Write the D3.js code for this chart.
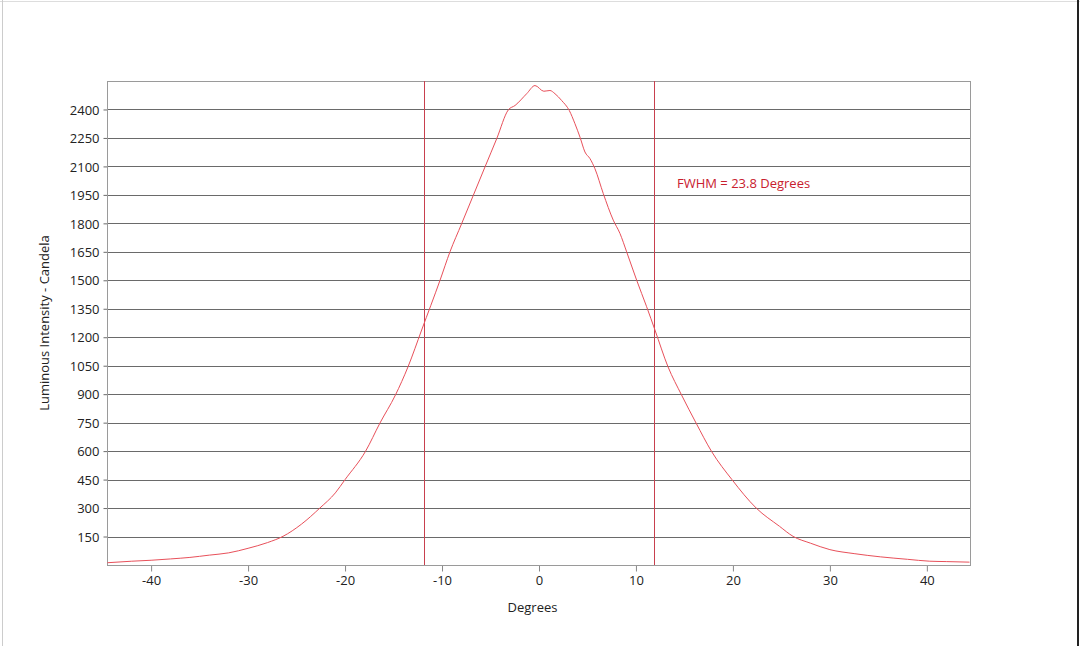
<!DOCTYPE html>
<html>
<head>
<meta charset="utf-8">
<script src="https://cdn.jsdelivr.net/npm/d3@7"></script>
<style>
  body { margin: 0; background: #fff; }
  svg text { font-family: "Open Sans", "DejaVu Sans", sans-serif; }
</style>
</head>
<body>
<svg id="chart" width="1080" height="646"></svg>
<script>
var degrees = [-44.5, -42, -40, -38, -36, -34, -32, -30, -28, -26.4, -24.5, -22.6, -21, -20, -17.9, -16.4,
    -14.8, -13.5, -12.1, -10.2, -9.18, -7.97, -6.77, -5.57, -4.36, -3.16, -2.47, -1.27, -0.41,
    0.5, 1.13, 1.65, 2.34, 3.12, 3.71, 4.23, 4.74, 5.26, 5.77, 6.63, 7.66, 8.35, 9.04, 10.07, 11.1,
    11.96, 13.3, 14.7, 16.2, 17.8, 19.9, 22.4, 24.8, 26.2, 28, 30, 32.5, 35.2, 38, 40.3, 42, 44.4]
var candela = [12, 20, 25, 32, 40, 52, 64, 88, 118, 151, 215, 300, 380, 450, 598, 748,
    896, 1045, 1238, 1501, 1650, 1799, 1948, 2097, 2246, 2398, 2421, 2483, 2526,
    2496, 2500, 2483, 2447, 2395, 2325, 2254, 2176, 2141, 2088, 1957, 1817, 1747, 1650, 1501, 1361,
    1238, 1045, 896, 748, 598, 450, 300, 204, 151, 115, 81, 60, 43, 30, 20, 18, 15]
var yTicks = [150, 300, 450, 600, 750, 900, 1050, 1200, 1350, 1500, 1650, 1800, 1950, 2100, 2250, 2400]
var xTicks = [-40, -30, -20, -10, 0, 10, 20, 30, 40]
var fwhmEdges = [-11.9, 11.9]
var fwhmLabel = 'FWHM = 23.8 Degrees'

var svg = d3.select('#chart')
var conf = { left: 107, right: 970, top: 81, bottom: 565 }

// page frame
svg.append('line').attr('x1', 0).attr('x2', 1080).attr('y1', 1.5).attr('y2', 1.5).attr('stroke', '#ddd')
svg.append('line').attr('x1', 2.5).attr('x2', 2.5).attr('y1', 0).attr('y2', 646).attr('stroke', '#ccc')
svg.append('line').attr('x1', 1078).attr('x2', 1078).attr('y1', 0).attr('y2', 646).attr('stroke', '#222').attr('stroke-width', 2)

var x = d3.scaleLinear().domain([-44.55, 44.45]).range([conf.left, conf.right])
var y = d3.scaleLinear().domain([0, 2550]).range([conf.bottom, conf.top])
var plain = d => String(d)

// grid lines
svg.append('g')
    .selectAll('line').data(yTicks).enter().append('line')
    .attr('x1', conf.left).attr('x2', conf.right)
    .attr('y1', d => Math.round(y(d)) + 0.5).attr('y2', d => Math.round(y(d)) + 0.5)
    .attr('stroke', '#6a6a6a')

// y axis
var yAxis = svg.append('g')
    .attr('transform', 'translate(' + (conf.left + 0.5) + ',0.5)')
    .call(d3.axisLeft(y).tickValues(yTicks).tickFormat(plain).tickSize(4).tickPadding(4))
yAxis.select('.domain').remove()
yAxis.selectAll('line').attr('stroke', '#6a6a6a').attr('transform', 'translate(0,-0.5)')
yAxis.selectAll('text').attr('font-size', 13).attr('fill', '#222')

// x axis
var xAxis = svg.append('g')
    .attr('transform', 'translate(0,' + (conf.bottom + 0.5) + ')')
    .call(d3.axisBottom(x).tickValues(xTicks).tickFormat(plain).tickSize(6).tickPadding(4))
xAxis.select('.domain').remove()
xAxis.selectAll('line').attr('stroke', '#888')
xAxis.selectAll('text').attr('font-size', 13).attr('fill', '#222')

// plot frame
svg.append('rect')
    .attr('x', conf.left + 0.5).attr('y', conf.top + 0.5)
    .attr('width', conf.right - conf.left).attr('height', conf.bottom - conf.top)
    .attr('fill', 'none').attr('stroke', '#9a9a9a')

// FWHM markers
svg.append('g')
    .selectAll('line').data(fwhmEdges).enter().append('line')
    .attr('x1', d => Math.round(x(d)) + 0.5).attr('x2', d => Math.round(x(d)) + 0.5)
    .attr('y1', conf.top).attr('y2', conf.bottom)
    .attr('stroke', '#c8404e')

// curve
var pts = degrees.map((d, i) => [d, candela[i]])
var line = d3.line().x(d => x(d[0])).y(d => y(d[1])).curve(d3.curveMonotoneX)
svg.append('path')
    .attr('d', line(pts))
    .attr('fill', 'none')
    .attr('stroke', '#e8505a')
    .attr('stroke-width', 1)

svg.append('text')
    .attr('x', 677).attr('y', 188)
    .attr('font-size', 13).attr('fill', '#c8202e')
    .text(fwhmLabel)

// axis titles
svg.append('text')
    .attr('x', (conf.left + conf.right) / 2 - 6).attr('y', 612)
    .attr('text-anchor', 'middle').attr('font-size', 13).attr('fill', '#222')
    .text('Degrees')
svg.append('text')
    .attr('transform', 'translate(49,' + ((conf.top + conf.bottom) / 2) + ') rotate(-90)')
    .attr('text-anchor', 'middle').attr('font-size', 13).attr('fill', '#222')
    .text('Luminous Intensity - Candela')
</script>
</body>
</html>
